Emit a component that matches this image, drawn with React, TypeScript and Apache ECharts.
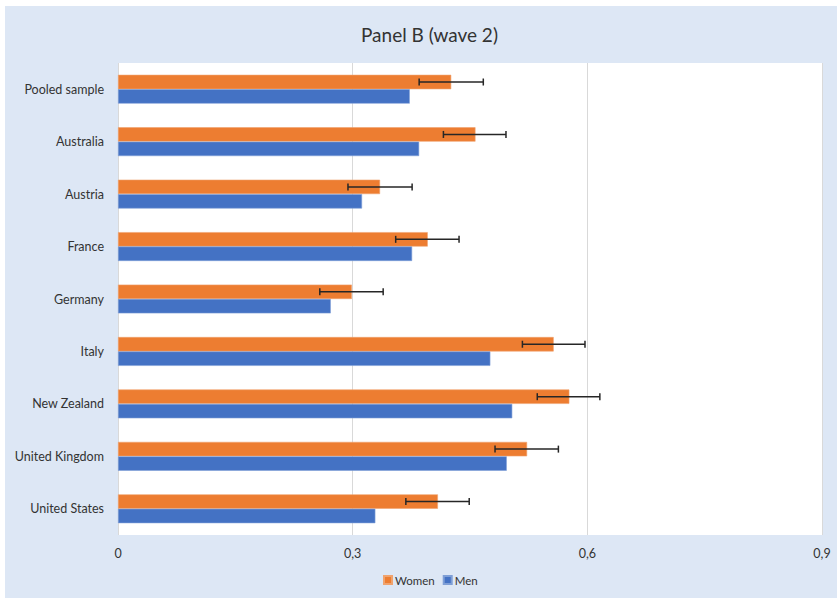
import React, { useEffect, useRef } from "react";
import * as echarts from "echarts";

const categories = [
  "Pooled sample",
  "Australia",
  "Austria",
  "France",
  "Germany",
  "Italy",
  "New Zealand",
  "United Kingdom",
  "United States",
];
const women = [0.426, 0.457, 0.335, 0.396, 0.299, 0.557, 0.577, 0.523, 0.409];
const men = [0.373, 0.385, 0.312, 0.376, 0.272, 0.476, 0.504, 0.497, 0.329];
const womenLow = [0.385, 0.416, 0.294, 0.355, 0.258, 0.517, 0.536, 0.482, 0.368];
const womenHigh = [0.467, 0.496, 0.376, 0.436, 0.339, 0.597, 0.616, 0.563, 0.449];
const xTicks = [0, 0.3, 0.6, 0.9];

const FONT = "Lato, 'Open Sans', sans-serif";
const BAR_FRAC = 0.275;

export default function App() {
  const ref = useRef<HTMLDivElement>(null);
  useEffect(() => {
    if (!ref.current) return;
    const chart = echarts.init(ref.current, undefined, { renderer: "svg" });
    const errData = categories.map((_, i) => [i, womenLow[i], womenHigh[i]]);
    chart.setOption({
      animation: false,
      backgroundColor: "#ffffff",
      textStyle: { fontFamily: FONT },
      graphic: [
        {
          type: "rect",
          z: -10,
          silent: true,
          shape: { x: 5, y: 6, width: 832, height: 592 },
          style: { fill: "#dde7f5" },
        },
      ],
      title: {
        text: "Panel B (wave 2)",
        left: 356,
        top: 20,
        textStyle: { fontFamily: FONT, fontSize: 19, fontWeight: "normal", color: "#333333" },
      },
      legend: {
        bottom: 8,
        left: 378,
        itemWidth: 8,
        itemHeight: 8,
        itemGap: 8,
        icon: "rect",
        data: ["Women", "Men"],
        textStyle: { fontFamily: FONT, fontSize: 11.5, color: "#333333", padding: [0, 0, 0, -2] },
      },
      grid: {
        left: 118,
        right: 15,
        top: 63,
        bottom: 64,
        show: true,
        backgroundColor: "#ffffff",
        borderWidth: 0,
        containLabel: false,
      },
      xAxis: {
        type: "value",
        min: xTicks[0],
        max: xTicks[xTicks.length - 1],
        interval: xTicks[1] - xTicks[0],
        axisLine: { show: false },
        axisTick: { show: false },
        axisLabel: {
          margin: 12,
          fontFamily: FONT,
          fontSize: 12.5,
          color: "#333333",
          formatter: (v: number) => String(Math.round(v * 10) / 10).replace(".", ","),
        },
        splitLine: { show: true, lineStyle: { color: "#d9d9d9", width: 1 } },
      },
      yAxis: {
        type: "category",
        data: categories,
        inverse: true,
        axisLine: { show: false },
        axisTick: { show: false },
        axisLabel: { margin: 14, fontFamily: FONT, fontSize: 12.5, color: "#333333" },
        splitLine: { show: false },
      },
      series: [
        {
          name: "Women",
          type: "bar",
          data: women,
          barWidth: BAR_FRAC * 100 + "%",
          barGap: "0%",
          itemStyle: { color: "#ed7d31", borderColor: "#f0a36e", borderWidth: 0.6 },
          z: 2,
        },
        {
          name: "Men",
          type: "bar",
          data: men,
          barWidth: BAR_FRAC * 100 + "%",
          barGap: "0%",
          itemStyle: { color: "#4472c4", borderColor: "#7f9fd6", borderWidth: 0.6 },
          z: 2,
        },
        {
          name: "err",
          type: "custom",
          z: 5,
          silent: true,
          data: errData,
          encode: { y: 0, x: [1, 2] },
          renderItem: (params: any, api: any) => {
            const idx = api.value(0);
            const lo = api.coord([api.value(1), idx]);
            const hi = api.coord([api.value(2), idx]);
            const band = api.size([0, 1])[1];
            const bw = band * BAR_FRAC;
            const y = lo[1] - bw / 2;
            const cap = 3.5;
            const style = { stroke: "#262626", lineWidth: 1.5 };
            return {
              type: "group",
              children: [
                { type: "line", shape: { x1: lo[0], y1: y, x2: hi[0], y2: y }, style },
                { type: "line", shape: { x1: lo[0], y1: y - cap, x2: lo[0], y2: y + cap }, style },
                { type: "line", shape: { x1: hi[0], y1: y - cap, x2: hi[0], y2: y + cap }, style },
              ],
            };
          },
        },
      ],
    });
    return () => chart.dispose();
  }, []);
  return (
    <div
      ref={ref}
      style={{ position: "fixed", left: 0, top: 0, width: 837, height: 599 }}
    />
  );
}
